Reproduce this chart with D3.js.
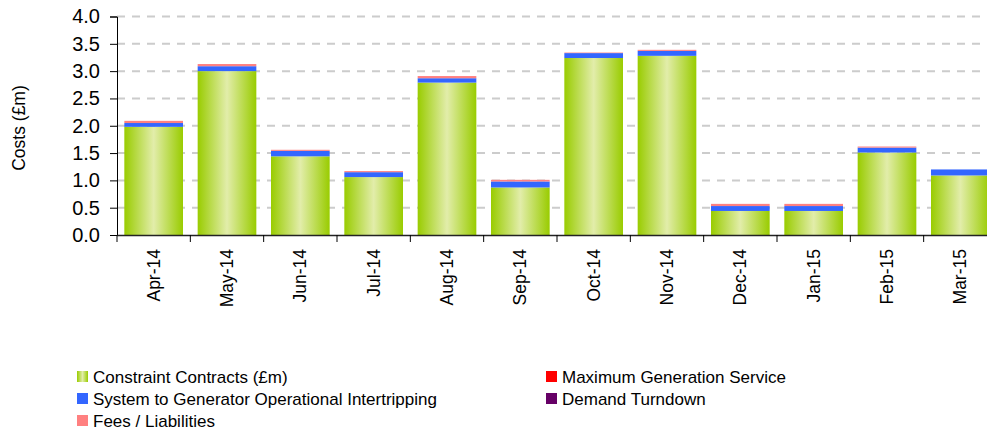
<!DOCTYPE html>
<html>
<head>
<meta charset="utf-8">
<script src="https://cdn.jsdelivr.net/npm/d3@7"></script>
<style>
  body { margin: 0; background: #fff; }
  text { font-family: "Liberation Sans", Arial, sans-serif; fill: #000; }
</style>
</head>
<body>
<svg id="chart" width="987" height="430"></svg>
<script>
// chart data
var months = ["Apr-14","May-14","Jun-14","Jul-14","Aug-14","Sep-14","Oct-14","Nov-14","Dec-14","Jan-15","Feb-15","Mar-15"];
var constraintContracts = [1.98, 3.00, 1.44, 1.06, 2.79, 0.87, 3.24, 3.28, 0.44, 0.44, 1.51, 1.09];
var intertripping       = [0.07, 0.09, 0.10, 0.09, 0.08, 0.11, 0.09, 0.09, 0.09, 0.09, 0.09, 0.11];
var maxGeneration       = [0, 0, 0, 0, 0, 0, 0, 0, 0, 0, 0, 0];
var demandTurndown      = [0, 0, 0, 0, 0, 0, 0, 0, 0, 0, 0, 0];
var feesLiabilities     = [0.04, 0.04, 0.02, 0.02, 0.04, 0.03, 0.01, 0.02, 0.04, 0.04, 0.02, 0];
var yTicks = [0, 0.5, 1.0, 1.5, 2.0, 2.5, 3.0, 3.5, 4.0];

var seriesNames = ["Constraint Contracts (£m)", "System to Generator Operational Intertripping",
                   "Fees / Liabilities", "Maximum Generation Service", "Demand Turndown"];
var seriesKeys = ["cc", "ig", "fl", "mg", "dt"];
var colors = { cc: "url(#greenGrad)", ig: "#3366FF", fl: "#FF8080", mg: "#FF0000", dt: "#660066" };

var table = months.map(function(m, i) {
  return { month: m, cc: constraintContracts[i], ig: intertripping[i], mg: maxGeneration[i],
           dt: demandTurndown[i], fl: feesLiabilities[i] };
});

var svg = d3.select("#chart");
var plotLeft = 117, plotTop = 16.5, plotBottom = 235, plotRight = 997;

var defs = svg.append("defs");
var grad = defs.append("linearGradient").attr("id", "greenGrad")
  .attr("x1", "0%").attr("x2", "100%").attr("y1", "0%").attr("y2", "0%");
grad.append("stop").attr("offset", "0%").attr("stop-color", "#99CC00");
grad.append("stop").attr("offset", "50%").attr("stop-color", "#E2EDAA");
grad.append("stop").attr("offset", "100%").attr("stop-color", "#99CC00");

var x = d3.scaleBand().domain(months).range([plotLeft, plotRight]).paddingInner(0.2).paddingOuter(0.1);
var y = d3.scaleLinear().domain([0, 4]).range([plotBottom, plotTop]);

// gridlines
svg.append("g").selectAll("line")
  .data(yTicks.slice(1))
  .enter().append("line")
  .attr("x1", plotLeft).attr("x2", 987)
  .attr("y1", d => y(d)).attr("y2", d => y(d))
  .style("stroke", "#cccccc").style("stroke-width", 2)
  .style("stroke-dasharray", "8,7");

// stacked bars
var stack = d3.stack().keys(["cc", "ig", "mg", "dt", "fl"]);
var layers = stack(table);

svg.append("g").selectAll("g")
  .data(layers)
  .enter().append("g")
  .attr("fill", d => colors[d.key])
  .selectAll("rect")
  .data(d => d)
  .enter().append("rect")
  .attr("x", d => x(d.data.month))
  .attr("width", x.bandwidth())
  .attr("y", d => y(d[1]))
  .attr("height", d => y(d[0]) - y(d[1]));

// y axis
var yAxis = svg.append("g").attr("transform", "translate(" + plotLeft + ",0)")
  .call(d3.axisLeft(y).tickValues(yTicks).tickFormat(d3.format(".1f")).tickSize(7).tickPadding(10));
yAxis.select(".domain").attr("stroke", "#000");
yAxis.selectAll("text").style("font-size", "20px");

// x axis
var xAxis = svg.append("g").attr("transform", "translate(0," + plotBottom + ")")
  .call(d3.axisBottom(x).tickSize(0).tickPadding(0));
xAxis.select(".domain").remove();
svg.append("line").attr("x1", plotLeft).attr("x2", 987).attr("y1", plotBottom + 0.5).attr("y2", plotBottom + 0.5)
  .style("stroke", "#222").style("stroke-width", 1.5);
svg.append("g").selectAll("line")
  .data(months)
  .enter().append("line")
  .attr("x1", d => x(d) - x.step() * x.paddingInner() / 2)
  .attr("x2", d => x(d) - x.step() * x.paddingInner() / 2)
  .attr("y1", plotBottom).attr("y2", plotBottom + 7)
  .style("stroke", "#000");
xAxis.selectAll("text")
  .style("font-size", "17.5px")
  .attr("text-anchor", "end")
  .attr("x", 0).attr("y", 0)
  .attr("dy", "0.35em")
  .attr("transform", "translate(0,14) rotate(-90)");

// y title
svg.append("text")
  .attr("transform", "translate(25,128) rotate(-90)")
  .attr("text-anchor", "middle")
  .style("font-size", "17.5px")
  .text("Costs (£m)");

// legend
var legendPos = [
  { x: 77, y: 377 }, { x: 77, y: 399 }, { x: 77, y: 421 },
  { x: 546, y: 377 }, { x: 546, y: 399 }
];
var legend = svg.append("g").selectAll("g")
  .data(seriesKeys)
  .enter().append("g")
  .attr("transform", (d, i) => "translate(" + legendPos[i].x + "," + legendPos[i].y + ")");
legend.append("rect")
  .attr("x", 0).attr("y", -6).attr("width", 11).attr("height", 11)
  .attr("fill", d => colors[d]);
legend.append("text")
  .attr("x", 16).attr("y", 6)
  .style("font-size", "17px")
  .text((d, i) => seriesNames[i]);
</script>
</body>
</html>
